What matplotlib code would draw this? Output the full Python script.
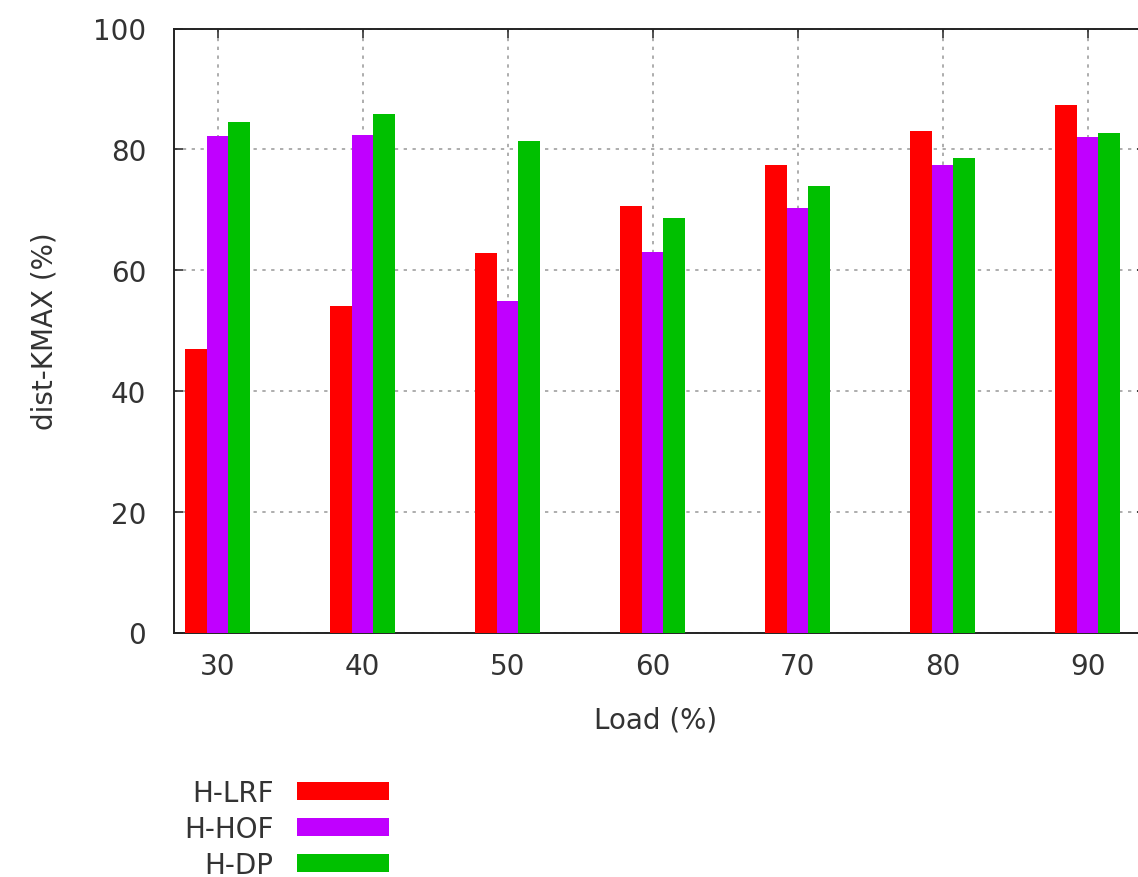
import matplotlib
matplotlib.use("Agg")
import matplotlib.pyplot as plt
import numpy as np

# data
loads = [30, 40, 50, 60, 70, 80, 90]
h_lrf = [46.9, 54.0, 62.8, 70.6, 77.4, 83.0, 87.4]
h_hof = [82.2, 82.4, 54.9, 63.0, 70.2, 77.4, 82.1]
h_dp = [84.6, 85.8, 81.4, 68.7, 74.0, 78.6, 82.7]
series_names = ["H-LRF", "H-HOF", "H-DP"]
colors = ["#ff0000", "#c000ff", "#00c000"]

plt.rcParams['font.family'] = ['DejaVu Sans']
fig = plt.figure(figsize=(11.38, 8.78), dpi=100)
W, H = 1138.0, 878.0
# axes runs past the right edge, as in the original (cropped) image
ax = fig.add_axes([174 / W, (H - 633.5) / H, 971.5 / W, 604 / H])

bar_w = 1.5
x = np.array(loads, dtype=float)
handles = []
for i, (vals, name, c) in enumerate(zip([h_lrf, h_hof, h_dp], series_names, colors)):
    b = ax.bar(x + (i - 1) * bar_w, vals, width=bar_w, color=c, label=name,
               linewidth=0, zorder=3)
    handles.append(b)

ax.set_xlim(27, 94)
ax.set_ylim(0, 100)
ax.set_xticks(loads)
ax.set_yticks(range(0, 101, 20))

ax.grid(True, color='#a0a0a0', linestyle=(0, (2, 3.3)), linewidth=1.2, zorder=0)
for s in ax.spines.values():
    s.set_color('#222222')
    s.set_linewidth(1.4)
ax.tick_params(direction='in', length=6.5, width=1.1, top=True, right=True,
               labelsize=20, colors='#222222', labelcolor='#333333')
ax.tick_params(axis='x', pad=14)
ax.tick_params(axis='y', pad=20)

ax.set_xlabel("Load (%)", fontsize=20, color='#333333')
ax.set_ylabel("dist-KMAX (%)", fontsize=20, color='#333333')
ax.yaxis.set_label_coords(-115 / 971.5, 0.5)
ax.xaxis.set_label_coords((656 - 174) / 971.5, -73 / 604)

fig.legend(handles=handles, labels=series_names, loc='upper left',
           bbox_to_anchor=(184 / W, 1 - 780 / H), frameon=False,
           markerfirst=False, fontsize=20, handlelength=3.3, handleheight=0.62,
           handletextpad=0.85, labelspacing=0.28, borderpad=0, borderaxespad=0,
           labelcolor='#333333')

fig.savefig("out.png", dpi=100)
